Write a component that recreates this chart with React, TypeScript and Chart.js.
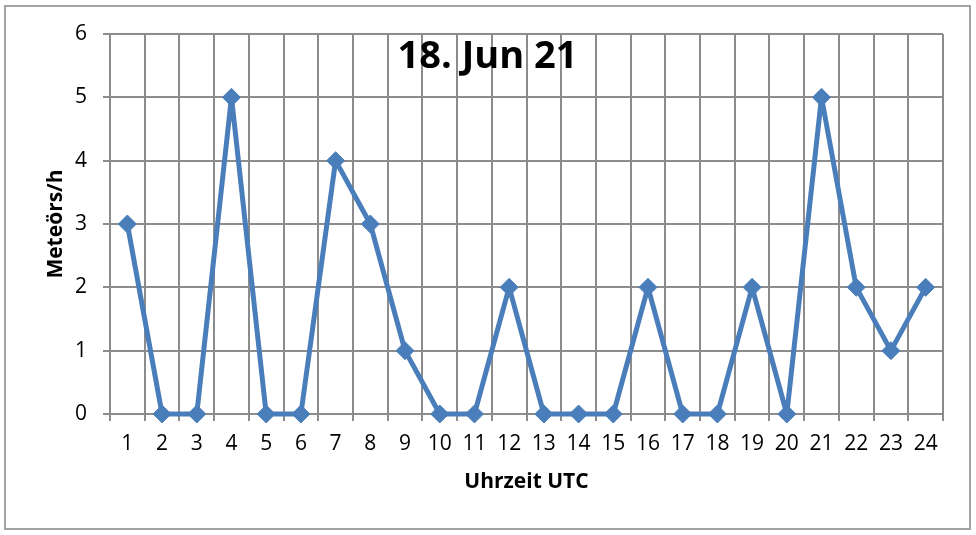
import { useEffect, useRef } from 'react';
import { Chart, registerables } from 'chart.js';

Chart.register(...registerables);

const hours = ['1', '2', '3', '4', '5', '6', '7', '8', '9', '10', '11', '12', '13', '14', '15', '16', '17', '18', '19', '20', '21', '22', '23', '24'];
const meteors = [3, 0, 0, 5, 0, 0, 4, 3, 1, 0, 0, 2, 0, 0, 0, 2, 0, 0, 2, 0, 5, 2, 1, 2];
const chartTitle = '18. Jun 21';
const yTitle = 'Meteörs/h';
const xTitle = 'Uhrzeit UTC';

const FONT = '"Open Sans", "DejaVu Sans", sans-serif';
const GRID = '#8c8c8c';

// titel steht im plotbereich, deshalb selbst zeichnen
const innerTitle = {
	id: 'innerTitle',
	afterDraw(chart: Chart) {
		const { ctx, chartArea } = chart;
		ctx.save();
		ctx.font = `bold 38px ${FONT}`;
		ctx.fillStyle = '#000';
		ctx.textAlign = 'center';
		ctx.textBaseline = 'alphabetic';
		ctx.fillText(chartTitle, 487.5, chartArea.top + 34);
		ctx.restore();
	},
};

const App = () => {
	const canvasRef = useRef<HTMLCanvasElement>(null);
	const chartRef = useRef<Chart | null>(null);

	useEffect(() => {
		if (!canvasRef.current) return;
		if (chartRef.current) chartRef.current.destroy();

		chartRef.current = new Chart(canvasRef.current, {
			type: 'line',
			data: {
				labels: hours,
				datasets: [
					{
						data: meteors,
						borderColor: '#4a7ebb',
						backgroundColor: '#4a7ebb',
						borderWidth: 5,
						borderJoinStyle: 'round',
						borderCapStyle: 'round',
						pointStyle: 'rectRot',
						pointRadius: 9,
						pointBorderWidth: 1,
						pointBackgroundColor: '#4a7ebb',
						pointBorderColor: '#4a7ebb',
						tension: 0,
						clip: false,
					},
				],
			},
			options: {
				animation: false,
				responsive: true,
				maintainAspectRatio: false,
				layout: { padding: { left: 0, top: 34, right: 33, bottom: 40 } },
				plugins: {
					legend: { display: false },
					tooltip: { enabled: false },
				},
				scales: {
					x: {
						offset: true,
						grid: { offset: true, color: GRID, lineWidth: 2, tickLength: 7 },
						border: { color: GRID, width: 2 },
						ticks: { color: '#000', font: { family: FONT, size: 21 }, padding: 10, maxRotation: 0, autoSkip: false },
						title: { display: true, text: xTitle, color: '#000', font: { family: FONT, size: 21, weight: 'bold' }, padding: 0 },
						afterFit: (scale) => {
							scale.height = 81;
						},
					},
					y: {
						min: 0,
						max: 6,
						ticks: { stepSize: 1, color: '#000', font: { family: FONT, size: 21 }, padding: 16 },
						grid: { color: GRID, lineWidth: 2, tickLength: 7 },
						border: { color: GRID, width: 2 },
						title: { display: true, text: yTitle, color: '#000', font: { family: FONT, size: 21, weight: 'bold' }, padding: { top: 43, bottom: 0 } },
						afterFit: (scale) => {
							scale.width = 110;
						},
					},
				},
			},
			plugins: [innerTitle],
		});

		return () => {
			if (chartRef.current) {
				chartRef.current.destroy();
				chartRef.current = null;
			}
		};
	}, []);

	return (
		<div style={{ position: 'absolute', left: 0, top: 0, width: 976, height: 535, background: '#fff' }}>
			<div
				style={{
					position: 'absolute',
					left: 4,
					top: 5,
					width: 967,
					height: 525,
					boxSizing: 'border-box',
					border: '2px solid #a3a3a3',
				}}
			/>
			<div style={{ position: 'absolute', left: 0, top: 0, width: 976, height: 535 }}>
				<canvas ref={canvasRef} />
			</div>
		</div>
	);
};

export default App;
